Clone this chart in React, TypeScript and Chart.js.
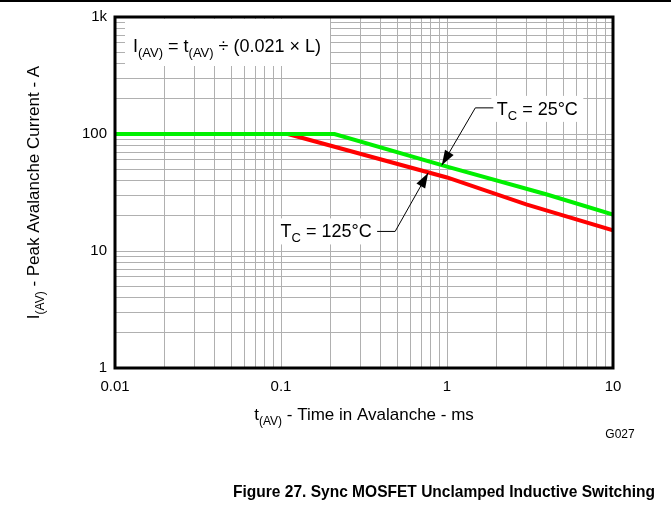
import React, { useEffect, useRef } from "react";
import { Chart, registerables } from "chart.js";

Chart.register(...registerables);

// ---- data ----
const timeMs25: number[] = [0.01, 0.21, 1, 4, 10];
const current25: number[] = [100, 100, 52.7, 30.4, 20.5];
const timeMs125: number[] = [0.11, 1, 3, 10];
const current125: number[] = [100, 42.5, 25, 15];

// grid / tick positions
const xGridValues: number[] = [
  0.01, 0.02, 0.03, 0.04, 0.05, 0.06, 0.07, 0.08, 0.09,
  0.1, 0.2, 0.3, 0.4, 0.5, 0.6, 0.7, 0.8, 0.9,
  1, 2, 3, 4, 5, 6, 7, 8, 9, 10,
];
const yGridValues: number[] = [
  1, 2, 3, 4, 5, 6, 7, 8, 9,
  10, 20, 30, 40, 50, 60, 70, 80, 90,
  100, 200, 300, 400, 500, 600, 700, 800, 900, 1000,
];
const xLabelValues: number[] = [0.01, 0.1, 1, 10];
const xLabelTexts: string[] = ["0.01", "0.1", "1", "10"];
const yLabelValues: number[] = [1, 10, 100, 1000];
const yLabelTexts: string[] = ["1", "10", "100", "1k"];

const FONT = '"Liberation Sans", Arial, Helvetica, sans-serif';

type Seg = { t: string; sub?: boolean };

function richWidth(ctx: CanvasRenderingContext2D, segs: Seg[], size: number, bold = false) {
  let w = 0;
  for (const s of segs) {
    ctx.font = `${bold ? "bold " : ""}${s.sub ? Math.round(size * 0.7) : size}px ${FONT}`;
    w += ctx.measureText(s.t).width;
  }
  return w;
}

function drawRich(
  ctx: CanvasRenderingContext2D,
  segs: Seg[],
  x: number,
  baseline: number,
  size: number,
  align: "left" | "center" | "right",
  bold = false
) {
  const w = richWidth(ctx, segs, size, bold);
  let cx = align === "left" ? x : align === "center" ? x - w / 2 : x - w;
  ctx.textAlign = "left";
  ctx.textBaseline = "alphabetic";
  ctx.fillStyle = "#000";
  for (const s of segs) {
    ctx.font = `${bold ? "bold " : ""}${s.sub ? Math.round(size * 0.7) : size}px ${FONT}`;
    ctx.fillText(s.t, cx, baseline + (s.sub ? size * 0.28 : 0));
    cx += ctx.measureText(s.t).width;
  }
  return w;
}

function arrowHead(ctx: CanvasRenderingContext2D, fx: number, fy: number, tx: number, ty: number) {
  const ang = Math.atan2(ty - fy, tx - fx);
  const len = 15;
  const half = 5;
  const bx = tx - Math.cos(ang) * len;
  const by = ty - Math.sin(ang) * len;
  ctx.beginPath();
  ctx.moveTo(tx, ty);
  ctx.lineTo(bx + Math.sin(ang) * half, by - Math.cos(ang) * half);
  ctx.lineTo(bx - Math.sin(ang) * half, by + Math.cos(ang) * half);
  ctx.closePath();
  ctx.fillStyle = "#000";
  ctx.fill();
}

// annotation anchors in data space
const label25At = { x: 3.5, y: 164 };
const tip25At = { x: 0.93, y: 54 };
const label125At = { x: 0.187, y: 14.7 };
const tip125At = { x: 0.77, y: 46.5 };

const overlayPlugin = {
  id: "overlay",
  beforeDatasetsDraw(chart: any) {
    const ctx: CanvasRenderingContext2D = chart.ctx;
    const a = chart.chartArea;
    const xs = chart.scales.x;
    const ys = chart.scales.y;
    ctx.save();
    ctx.fillStyle = "#fff";
    // formula box
    ctx.fillRect(a.left + 10, a.top + 2, 205, 47);
    // Tc = 25 label box
    const l25x = xs.getPixelForValue(label25At.x);
    const l25y = ys.getPixelForValue(label25At.y);
    ctx.fillRect(l25x - 46, l25y - 13, 92, 26);
    // Tc = 125 label box
    const l125x = xs.getPixelForValue(label125At.x);
    const l125y = ys.getPixelForValue(label125At.y);
    ctx.fillRect(l125x - 51, l125y - 13, 102, 26);
    ctx.restore();
  },
  afterDraw(chart: any) {
    const ctx: CanvasRenderingContext2D = chart.ctx;
    const a = chart.chartArea;
    const xs = chart.scales.x;
    const ys = chart.scales.y;
    ctx.save();

    // page rule at top
    ctx.fillStyle = "#000";
    ctx.fillRect(0, 0, chart.width, 2);

    // plot border
    ctx.strokeStyle = "#000";
    ctx.lineWidth = 3;
    ctx.strokeRect(a.left, a.top, a.right - a.left, a.bottom - a.top);

    // formula
    drawRich(
      ctx,
      [
        { t: "I" },
        { t: "(AV)", sub: true },
        { t: " = t" },
        { t: "(AV)", sub: true },
        { t: " \u00F7 (0.021 \u00D7 L)" },
      ],
      a.left + 18,
      a.top + 35,
      18,
      "left"
    );

    // Tc = 25 label + arrow
    const l25x = xs.getPixelForValue(label25At.x);
    const l25y = ys.getPixelForValue(label25At.y);
    drawRich(
      ctx,
      [{ t: "T" }, { t: "C", sub: true }, { t: " = 25\u00B0C" }],
      l25x,
      l25y + 6,
      18,
      "center"
    );
    const tip25x = xs.getPixelForValue(tip25At.x);
    const tip25y = ys.getPixelForValue(tip25At.y);
    const k25x = l25x - 62;
    ctx.strokeStyle = "#000";
    ctx.lineWidth = 1;
    ctx.beginPath();
    ctx.moveTo(l25x - 44, l25y - 1);
    ctx.lineTo(k25x, l25y - 1);
    ctx.lineTo(tip25x, tip25y);
    ctx.stroke();
    arrowHead(ctx, k25x, l25y - 1, tip25x, tip25y);

    // Tc = 125 label + arrow
    const l125x = xs.getPixelForValue(label125At.x);
    const l125y = ys.getPixelForValue(label125At.y);
    drawRich(
      ctx,
      [{ t: "T" }, { t: "C", sub: true }, { t: " = 125\u00B0C" }],
      l125x,
      l125y + 6,
      18,
      "center"
    );
    const tip125x = xs.getPixelForValue(tip125At.x);
    const tip125y = ys.getPixelForValue(tip125At.y);
    const k125x = l125x + 69;
    ctx.beginPath();
    ctx.moveTo(l125x + 51, l125y);
    ctx.lineTo(k125x, l125y);
    ctx.lineTo(tip125x, tip125y);
    ctx.stroke();
    arrowHead(ctx, k125x, l125y, tip125x, tip125y);

    // y axis title (rotated)
    ctx.save();
    ctx.translate(39, (a.top + a.bottom) / 2);
    ctx.rotate(-Math.PI / 2);
    drawRich(
      ctx,
      [{ t: "I" }, { t: "(AV)", sub: true }, { t: " - Peak Avalanche Current - A" }],
      0,
      0,
      17,
      "center"
    );
    ctx.restore();

    // x axis title
    drawRich(
      ctx,
      [{ t: "t" }, { t: "(AV)", sub: true }, { t: " - Time in Avalanche - ms" }],
      (a.left + a.right) / 2,
      420,
      17,
      "center"
    );

    // figure id
    ctx.font = `12px ${FONT}`;
    ctx.textAlign = "center";
    ctx.textBaseline = "alphabetic";
    ctx.fillStyle = "#000";
    ctx.fillText("G027", 620, 438);

    // caption
    ctx.font = `bold 17px ${FONT}`;
    ctx.textAlign = "center";
    ctx.fillText("Figure 27. Sync MOSFET Unclamped Inductive Switching", 444, 497, 422);

    ctx.restore();
  },
};

export default function App() {
  const canvasRef = useRef<HTMLCanvasElement | null>(null);

  useEffect(() => {
    const canvas = canvasRef.current;
    if (!canvas) return;
    const chart = new Chart(canvas, {
      type: "line",
      data: {
        datasets: [
          {
            label: "TC = 25°C",
            data: timeMs25.map((t, i) => ({ x: t, y: current25[i] })),
            borderColor: "#00f000",
            backgroundColor: "#00f000",
            borderWidth: 4,
            pointRadius: 0,
            tension: 0,
            fill: false,
          },
          {
            label: "TC = 125°C",
            data: timeMs125.map((t, i) => ({ x: t, y: current125[i] })),
            borderColor: "#ff0000",
            backgroundColor: "#ff0000",
            borderWidth: 4,
            pointRadius: 0,
            tension: 0,
            fill: false,
          },
        ],
      },
      options: {
        responsive: false,
        animation: false,
        devicePixelRatio: 1,
        layout: { padding: { left: 0, top: 16, right: 58, bottom: 0 } },
        plugins: {
          legend: { display: false },
          tooltip: { enabled: false },
          title: { display: false },
        },
        font: { family: FONT },
        scales: {
          x: {
            type: "logarithmic",
            min: 0.01,
            max: 10,
            position: "bottom",
            afterBuildTicks: (s: any) => {
              s.ticks = xGridValues.map((v) => ({ value: v }));
            },
            afterFit: (s: any) => {
              s.height = 140;
            },
            ticks: {
              autoSkip: false,
              maxRotation: 0,
              minRotation: 0,
              padding: 10,
              color: "#000",
              font: { family: FONT, size: 15 },
              callback: (v: any) => {
                const i = xLabelValues.findIndex((lv) => Math.abs(lv - Number(v)) < lv * 1e-6);
                return i >= 0 ? xLabelTexts[i] : "";
              },
            },
            grid: { color: "#b0b0b0", lineWidth: 1, drawTicks: false },
            border: { display: false },
          },
          y: {
            type: "logarithmic",
            min: 1,
            max: 1000,
            position: "left",
            afterBuildTicks: (s: any) => {
              s.ticks = yGridValues.map((v) => ({ value: v }));
            },
            afterFit: (s: any) => {
              s.width = 115;
            },
            ticks: {
              autoSkip: false,
              padding: 8,
              color: "#000",
              font: { family: FONT, size: 15 },
              callback: (v: any) => {
                const i = yLabelValues.findIndex((lv) => Math.abs(lv - Number(v)) < lv * 1e-6);
                return i >= 0 ? yLabelTexts[i] : "";
              },
            },
            grid: { color: "#b0b0b0", lineWidth: 1, drawTicks: false },
            border: { display: false },
          },
        },
      } as any,
      plugins: [overlayPlugin],
    });
    return () => chart.destroy();
  }, []);

  return (
    <div style={{ position: "absolute", left: 0, top: 0, width: 671, height: 508, background: "#fff" }}>
      <canvas ref={canvasRef} width={671} height={508} style={{ display: "block", width: 671, height: 508 }} />
    </div>
  );
}
